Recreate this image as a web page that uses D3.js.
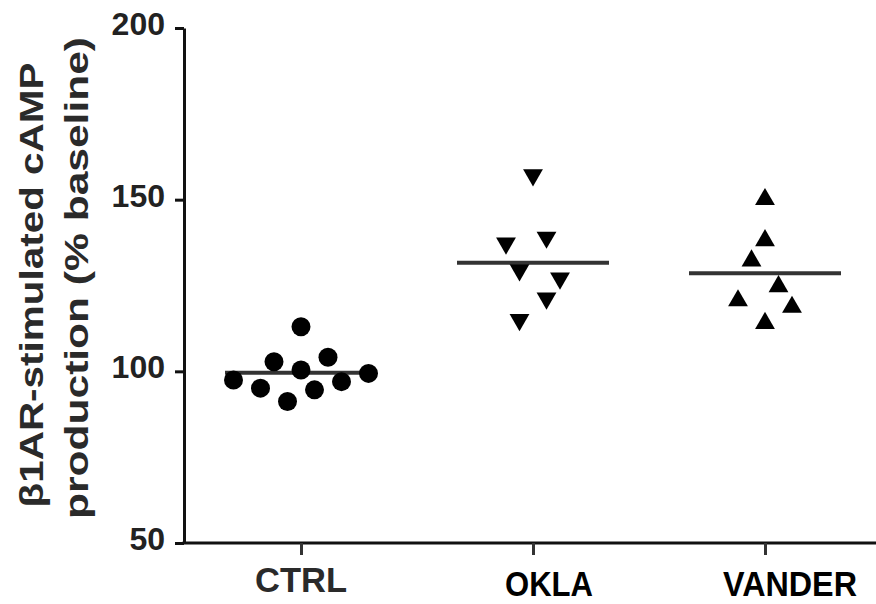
<!DOCTYPE html>
<html>
<head>
<meta charset="utf-8">
<script src="https://cdn.jsdelivr.net/npm/d3@7"></script>
<style>
  body { margin: 0; background: #fff; }
  svg { display: block; }
</style>
</head>
<body>
<svg id="chart" width="876" height="604"></svg>
<script>
// groups and their measured values (% baseline)
var groups = ["CTRL", "OKLA", "VANDER"];
var ctrlValues = [113.0, 102.8, 104.1, 100.4, 97.5, 95.1, 91.2, 94.6, 97.0, 99.4];
var oklaValues = [157.2, 137.3, 139.0, 129.5, 127.1, 121.3, 115.0];
var vanderValues = [150.1, 138.1, 132.2, 124.7, 120.6, 118.7, 114.0];
// horizontal slot of each point inside its column (scatter spread)
var ctrlSlots = [0, -2, 2, 0, -5, -3, -1, 1, 3, 5];
var oklaSlots = [0, -2, 1, -1, 2, 1, -1];
var vanderSlots = [0, 0, -1, 1, -2, 2, 0];
var groupMeans = [99.6, 131.6, 128.6];
var yTicks = [50, 100, 150, 200];

var svg = d3.select("#chart");

var x = d3.scalePoint().domain(groups).range([185, 881]).padding(0.5);
var y = d3.scaleLinear().domain([50, 200]).range([543, 28]);
var slot = d3.scaleLinear().domain([0, 1]).range([0, 13.5]);

var series = [
    {group: "CTRL", values: ctrlValues, slots: ctrlSlots, shape: "circle"},
    {group: "OKLA", values: oklaValues, slots: oklaSlots, shape: "down"},
    {group: "VANDER", values: vanderValues, slots: vanderSlots, shape: "up"}
];

// y axis
var yAxis = svg.append("g")
    .attr("transform", "translate(184,0)")
    .call(d3.axisLeft(y).tickValues(yTicks).tickSize(9).tickSizeOuter(0).tickPadding(10));
yAxis.select(".domain").attr("stroke", "#111").attr("stroke-width", 3);
yAxis.selectAll(".tick line").attr("stroke", "#111").attr("stroke-width", 3);
yAxis.selectAll(".tick text")
    .attr("font-family", "Liberation Sans, Arial, sans-serif")
    .attr("font-weight", "bold")
    .attr("font-size", "32px")
    .attr("fill", "#222")
    .attr("dy", "0.2em");

// x axis
var xAxis = svg.append("g")
    .attr("transform", "translate(0,543)")
    .call(d3.axisBottom(x).tickSize(12).tickSizeOuter(0).tickFormat(""));
xAxis.select(".domain").attr("stroke", "#111").attr("stroke-width", 3)
    .attr("d", "M182.5,0H881");
xAxis.selectAll(".tick line").attr("stroke", "#333").attr("stroke-width", 3);

// category labels (kept just inside the bottom edge)
var labelStyle = {
    CTRL: {dx: 0, y: 592, len: 92, fill: "#2a2a2a"},
    OKLA: {dx: 16, y: 596, len: 88, fill: "#000"},
    VANDER: {dx: 25, y: 596, len: 134, fill: "#000"}
};
svg.append("g").selectAll("text").data(groups).enter().append("text")
    .attr("x", d => x(d) + labelStyle[d].dx)
    .attr("y", d => labelStyle[d].y)
    .attr("text-anchor", "middle")
    .attr("font-family", "Liberation Sans, Arial, sans-serif")
    .attr("font-weight", "bold")
    .attr("font-size", "35px")
    .attr("fill", d => labelStyle[d].fill)
    .attr("textLength", d => labelStyle[d].len)
    .attr("lengthAdjust", "spacingAndGlyphs")
    .text(d => d);

// y axis title (two lines)
var title = svg.append("g")
    .attr("font-family", "Liberation Sans, Arial, sans-serif")
    .attr("font-weight", "bold")
    .attr("font-size", "34px")
    .attr("fill", "#2a2a2a")
    .attr("text-anchor", "middle");
title.append("text")
    .attr("transform", "translate(43,285) rotate(-90)")
    .attr("textLength", 445)
    .attr("lengthAdjust", "spacingAndGlyphs")
    .text("β1AR-stimulated cAMP");
title.append("text")
    .attr("transform", "translate(88,278) rotate(-90)")
    .attr("textLength", 482)
    .attr("lengthAdjust", "spacingAndGlyphs")
    .text("production (% baseline)");

// mean lines
svg.append("g").selectAll("line").data(groups).enter().append("line")
    .attr("x1", d => x(d) - 76)
    .attr("x2", d => x(d) + 76)
    .attr("y1", (d, i) => y(groupMeans[i]))
    .attr("y2", (d, i) => y(groupMeans[i]))
    .attr("stroke", "#333")
    .attr("stroke-width", 4);

// points
var tri = d3.symbol().type(d3.symbolTriangle).size(170);
series.forEach(function(s) {
    var pts = s.values.map((v, i) => ({v: v, s: s.slots[i]}));
    var g = svg.append("g");
    if (s.shape === "circle") {
        g.selectAll("circle").data(pts).enter().append("circle")
            .attr("cx", d => x(s.group) + slot(d.s))
            .attr("cy", d => y(d.v))
            .attr("r", 9.5)
            .attr("fill", "#000");
    } else {
        g.selectAll("path").data(pts).enter().append("path")
            .attr("d", tri)
            .attr("transform", d => "translate(" + (x(s.group) + slot(d.s)) + "," + y(d.v) + ")" +
                (s.shape === "down" ? " rotate(180)" : ""))
            .attr("fill", "#000");
    }
});
</script>
</body>
</html>
